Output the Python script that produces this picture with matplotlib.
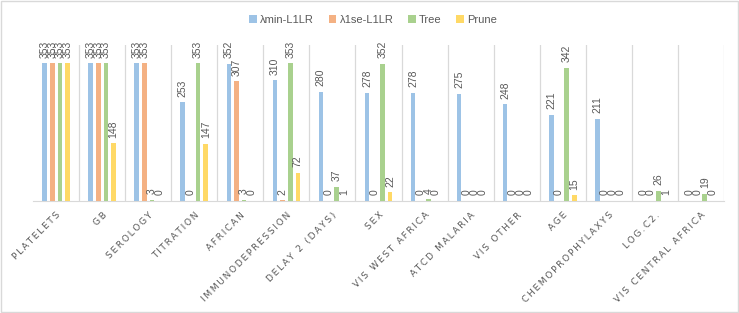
import matplotlib
matplotlib.use("Agg")
import matplotlib.pyplot as plt
import numpy as np
from matplotlib.patches import Rectangle

categories = ["PLATELETS", "GB", "SEROLOGY", "TITRATION", "AFRICAN", "IMMUNODEPRESSION",
              "DELAY 2 (DAYS)", "SEX", "VIS WEST AFRICA", "ATCD MALARIA", "VIS OTHER",
              "AGE", "CHEMOPROPHYLAXYS", "LOG.C2.", "VIS CENTRAL AFRICA"]
series_names = ["λmin-L1LR", "λ1se-L1LR", "Tree", "Prune"]
lmin = [353, 353, 353, 253, 352, 310, 280, 278, 278, 275, 248, 221, 211, 0, 0]
l1se = [353, 353, 353, 0, 307, 2, 0, 0, 0, 0, 0, 0, 0, 0, 0]
tree = [353, 353, 3, 353, 3, 353, 37, 352, 4, 0, 0, 342, 0, 26, 19]
prune = [353, 148, 0, 147, 0, 72, 1, 22, 0, 0, 0, 15, 0, 1, 0]
colors = ["#9DC3E6", "#F4B183", "#A9D18E", "#FFD966"]

plt.rcParams['font.family'] = ['Liberation Sans', 'DejaVu Sans']
fig = plt.figure(figsize=(7.39, 3.13), dpi=100)
ax = fig.add_axes([0.0447, 0.358, 0.935, 0.498])

x = np.arange(len(categories))
offsets = [-0.25, -0.083, 0.083, 0.25]
txtcol = "#595959"
for vals, off, col, name in zip([lmin, l1se, tree, prune], offsets, colors, series_names):
    ax.bar(x + off, vals, width=0.1, color=col, label=name, zorder=3)
    for xi, v in zip(x + off, vals):
        ax.annotate(str(v), (xi, v), xytext=(0, 4), textcoords="offset points",
                    rotation=90, ha="center", va="bottom", fontsize=7.5, color=txtcol)

ax.set_xlim(-0.5, len(categories) - 0.5)
ax.set_ylim(0, 400)
for b in np.arange(0.5, len(categories), 1.0):
    ax.axvline(b, color="#D9D9D9", lw=0.9, zorder=1)
for s in ["top", "right", "left"]:
    ax.spines[s].set_visible(False)
ax.spines["bottom"].set_color("#D9D9D9")
ax.set_yticks([])
ax.set_xticks(x)
spaced = ["\u2009".join(list(c)) for c in categories]
ax.set_xticklabels(spaced, rotation=45, ha="right", rotation_mode="anchor",
                   fontsize=6.5, color=txtcol, family="DejaVu Sans")
ax.tick_params(axis="x", length=0, pad=7)

leg = fig.legend(loc="upper center", bbox_to_anchor=(0.505, 0.985), ncol=4, frameon=False,
                 fontsize=8, handlelength=0.7, handleheight=0.7, handletextpad=0.3,
                 columnspacing=1.3)
for t in leg.get_texts():
    t.set_color(txtcol)

fig.patches.append(Rectangle((0.001, 0.002), 0.997, 0.995, transform=fig.transFigure,
                             fill=False, edgecolor="#D9D9D9", lw=1))
fig.savefig("out.png", dpi=100)
